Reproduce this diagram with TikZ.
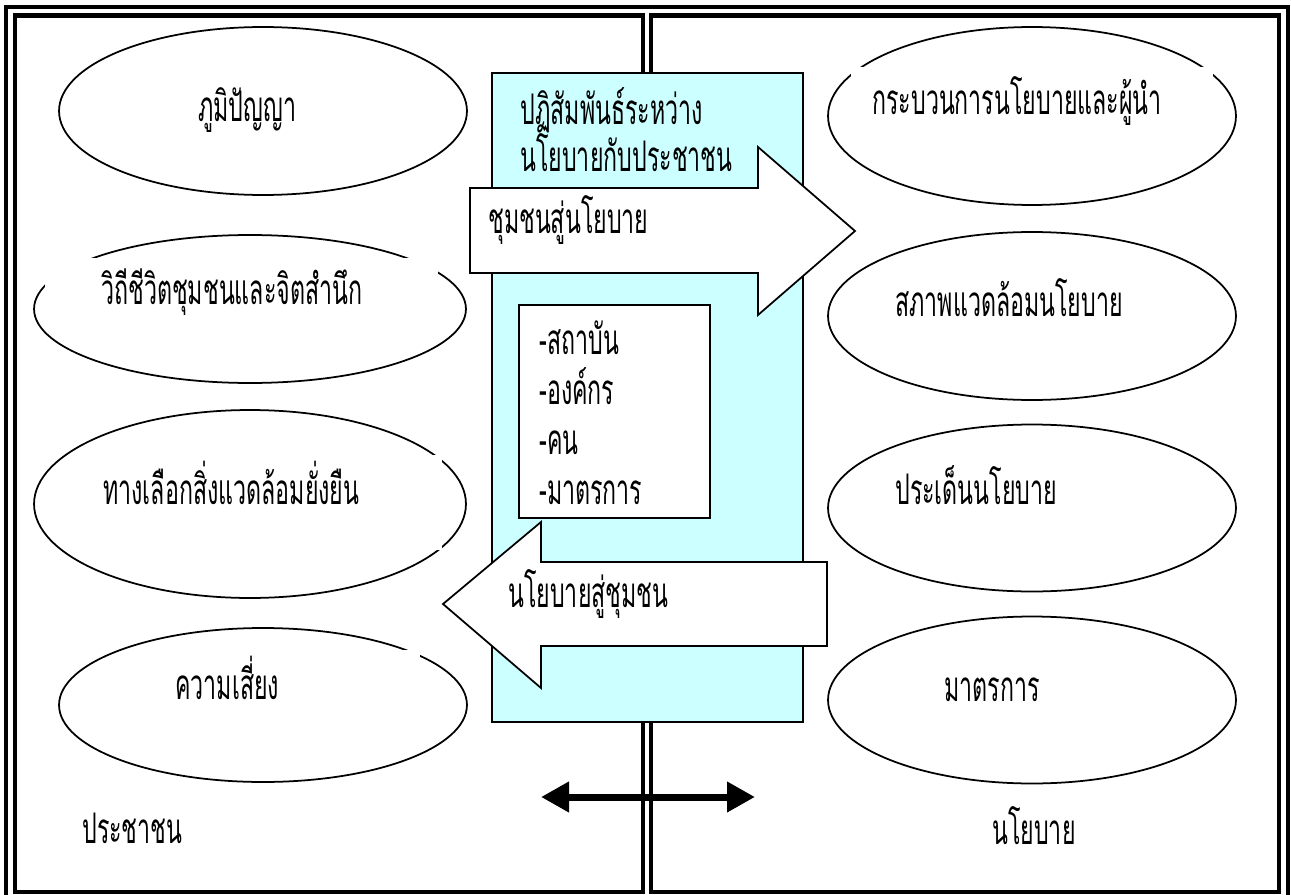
\documentclass[tikz,border=0pt]{standalone}
\usepackage{fontspec}
\newfontfamily\thaifont[Script=Thai,FakeStretch=0.55]{Loma}
\usetikzlibrary{shapes.geometric}
\usetikzlibrary{positioning}
\usetikzlibrary{arrows.meta}
\definecolor{paleaqua}{HTML}{CCFFFF}
\tikzset{
    frameo/.style = {line width=0.09cm, draw=black},
    oval/.style = {ellipse, draw=black, line width=1pt, fill=white, inner sep=0pt},
    gapfill/.style = {fill=white},
    lbl/.style = {anchor=base west, inner sep=0pt, font=\thaifont\fontsize{24}{27}\selectfont, text=black},
    panel/.style = {draw=black, line width=1pt, fill=paleaqua},
    wbox/.style = {draw=black, line width=1pt, fill=white},
    blockarrow/.style = {draw=black, line width=1pt, fill=white, line join=miter},
    linkarrow/.style = {{Triangle[length=0.56cm,width=0.58cm]}-{Triangle[length=0.56cm,width=0.58cm]}, line width=0.14cm}
}

\begin{document}
\begin{tikzpicture}[x=0.02cm,y=-0.02cm]
\useasboundingbox (0,0) rectangle (1291,895);
%
% frames
\draw[frameo] (6,7) rectangle (1288,902);
\draw[frameo] (15,15.5) rectangle (643,892);
\draw[frameo] (651,15.5) rectangle (1279,892);
%
% people side
\node[oval, minimum width=8.16cm, minimum height=3.36cm] at (263,111) (wisdom) {};
\node[oval, minimum width=8.64cm, minimum height=2.96cm] at (250,309) (lifeway) {};
\node[oval, minimum width=8.64cm, minimum height=3.76cm] at (250,504) (greenway) {};
\node[oval, minimum width=8.16cm, minimum height=3.08cm] at (263,705) (risk) {};
%
% policy side
\node[oval, minimum width=8.16cm, minimum height=3.56cm] at (1032,116) (process) {};
\node[oval, minimum width=8.16cm, minimum height=3.36cm] at (1032,316) (setting) {};
\node[oval, minimum width=8.16cm, minimum height=3.34cm] at (1032,508) (issue) {};
\node[oval, minimum width=8.16cm, minimum height=3.34cm] at (1032,700) (measure) {};
%
% text boxes cutting the outlines
\fill[gapfill] (45,258) rectangle (438,320);
\fill[gapfill] (100,455) rectangle (442,550);
\fill[gapfill] (150,650) rectangle (420,740);
\fill[gapfill] (851,67) rectangle (1213,150);
%
% middle
\draw[panel] (492,73) rectangle (803,722);
\draw[blockarrow] (470,188) -- (758,188) -- (758,147) -- (855,231) -- (758,315) -- (758,273) -- (470,273) -- cycle;
\draw[wbox] (519,305) rectangle (710,518);
\draw[blockarrow] (827,562) -- (541,562) -- (541,522) -- (443,604) -- (541,688) -- (541,646) -- (827,646) -- cycle;
%
\coordinate (linkL) at (541,797);
\coordinate (linkR) at (755,797);
\draw[linkarrow] (linkL) -- (linkR);
%
% labels
\node[lbl] at (198,121.5) (twisdom) {ภูมิปัญญา};
\node[lbl] at (101,304.5) (tlifeway) {วิถีชีวิตชุมชนและจิตสำนึก};
\node[lbl] at (103,504.5) (tgreenway) {ทางเลือกสิ่งแวดล้อมยั่งยืน};
\node[lbl] at (175,699.5) (trisk) {ความเสี่ยง};
\node[lbl] at (82,843.5) (tpeople) {ประชาชน};
%
\node[lbl] at (520,124.5) (tinter1) {ปฏิสัมพันธ์ระหว่าง};
\node[lbl] at (520,171.5) (tinter2) {นโยบายกับประชาชน};
\node[lbl] at (488,233.5) (tup) {ชุมชนสู่นโยบาย};
\node[lbl] at (539,354.5) (tinst) {-สถาบัน};
\node[lbl] at (539,404.5) (torg) {-องค์กร};
\node[lbl] at (539,454.5) (tman) {-คน};
\node[lbl] at (539,504.5) (tmeas) {-มาตรการ};
\node[lbl] at (508,607.5) (tdown) {นโยบายสู่ชุมชน};
%
\node[lbl] at (872,114.5) (tprocess) {กระบวนการนโยบายและผู้นำ};
\node[lbl] at (895,316.5) (tsetting) {สภาพแวดล้อมนโยบาย};
\node[lbl] at (895,504.5) (tissue) {ประเด็นนโยบาย};
\node[lbl] at (944,701.5) (tmeasure) {มาตรการ};
\node[lbl] at (992,844.5) (tpolicy) {นโยบาย};
\end{tikzpicture}
\end{document}
